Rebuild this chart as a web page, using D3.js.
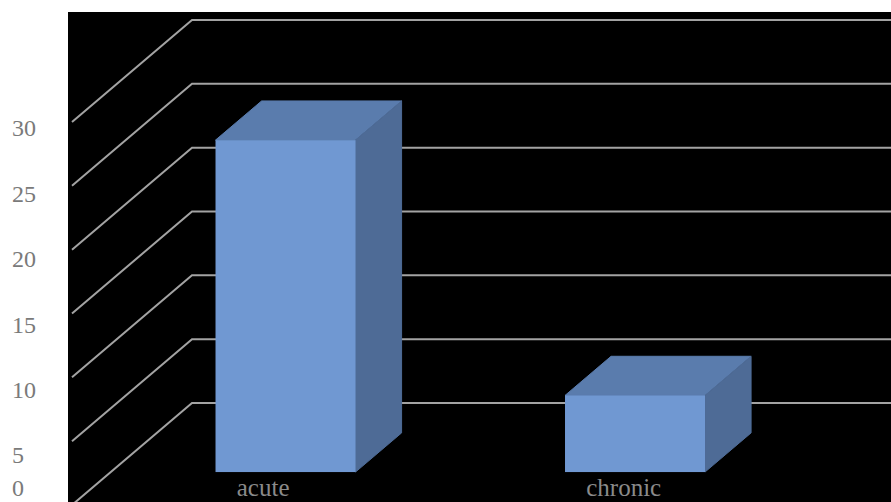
<!DOCTYPE html>
<html>
<head>
<meta charset="utf-8">
<script src="https://cdn.jsdelivr.net/npm/d3@7"></script>
<style>
  body { margin: 0; background: #fff; }
  text { font-family: "Liberation Serif", "Times New Roman", serif; }
</style>
</head>
<body>
<div id="chart"></div>
<script>
// chart data
var categories = ["acute", "chronic"];
var values = [26, 6];
var tickValues = [0, 5, 10, 15, 20, 25, 30];

var width = 891, height = 502;
var svg = d3.select("#chart").append("svg")
  .attr("width", width)
  .attr("height", height);

// plot area (black)
var plot = { left: 68, top: 12, right: 891, bottom: 502 };
svg.append("rect")
  .attr("x", plot.left).attr("y", plot.top)
  .attr("width", plot.right - plot.left)
  .attr("height", plot.bottom - plot.top)
  .attr("fill", "#000");

svg.append("clipPath").attr("id", "clip")
  .append("rect")
  .attr("x", plot.left).attr("y", plot.top)
  .attr("width", plot.right - plot.left)
  .attr("height", plot.bottom - plot.top);

// 3d projection: depth 0 = front plane, depth 1 = back wall
var depthX = 120, depthY = -102;
var y = d3.scaleLinear().domain([0, 30]).range([505, 122]);
var x = d3.scaleBand().domain(categories).range([72, 771]);
var barWidth = 140;
var zFront = 0.323, zBack = 0.707;

function pt(px, py, z) {
  return [px + depthX * z, py + depthY * z];
}

function poly(pts) {
  return pts.map(function(p) { return p.join(","); }).join(" ");
}

var g = svg.append("g").attr("clip-path", "url(#clip)");

// gridlines: diagonal on the side wall, then flat along the back wall
g.selectAll(".grid")
  .data(tickValues)
  .enter()
  .append("polyline")
  .attr("class", "grid")
  .attr("points", function(d) {
    var a = pt(72, y(d), 0), b = pt(72, y(d), 1);
    return poly([a, b, [plot.right, b[1]]]);
  })
  .attr("fill", "none")
  .attr("stroke", "#a3a3a3")
  .attr("stroke-width", 2);

// bars
var bars = g.selectAll(".bar")
  .data(categories)
  .enter()
  .append("g")
  .attr("class", "bar");

bars.each(function(c, i) {
  var x0 = x(c) + x.bandwidth() / 2 - barWidth / 2;
  var x1 = x0 + barWidth;
  var yb = y(0), yt = y(values[i]);
  var sel = d3.select(this);
  // top face
  sel.append("polygon")
    .attr("points", poly([pt(x0, yt, zFront), pt(x1, yt, zFront), pt(x1, yt, zBack), pt(x0, yt, zBack)]))
    .attr("fill", "#5a7cad")
    .attr("stroke", "#5a7cad")
    .attr("stroke-width", 1);
  // side face
  sel.append("polygon")
    .attr("points", poly([pt(x1, yt, zFront), pt(x1, yb, zFront), pt(x1, yb, zBack), pt(x1, yt, zBack)]))
    .attr("fill", "#4e6b96")
    .attr("stroke", "#4e6b96")
    .attr("stroke-width", 1);
  // front face
  var f0 = pt(x0, yt, zFront), f1 = pt(x1, yb, zFront);
  sel.append("rect")
    .attr("x", f0[0]).attr("y", f0[1])
    .attr("width", f1[0] - f0[0])
    .attr("height", f1[1] - f0[1])
    .attr("fill", "#7098d2");
});

// category labels
svg.selectAll(".cat")
  .data(categories)
  .enter()
  .append("text")
  .attr("class", "cat")
  .attr("x", function(d) { return x(d) + x.bandwidth() / 2 - 10; })
  .attr("y", 496)
  .attr("fill", "#8a8a8a")
  .style("font-size", "25px")
  .text(function(d) { return d; });

// value axis labels (drawn on the white margin)
var yLabel = d3.scaleLinear().domain([5, 30]).range([455, 128]);
svg.selectAll(".tick-label")
  .data(tickValues)
  .enter()
  .append("text")
  .attr("class", "tick-label")
  .attr("x", 12)
  .attr("y", function(d) { return Math.min(yLabel(d), 488); })
  .attr("dy", "0.35em")
  .attr("fill", "#7a7a7a")
  .style("font-size", "24px")
  .text(function(d) { return d; });
</script>
</body>
</html>
